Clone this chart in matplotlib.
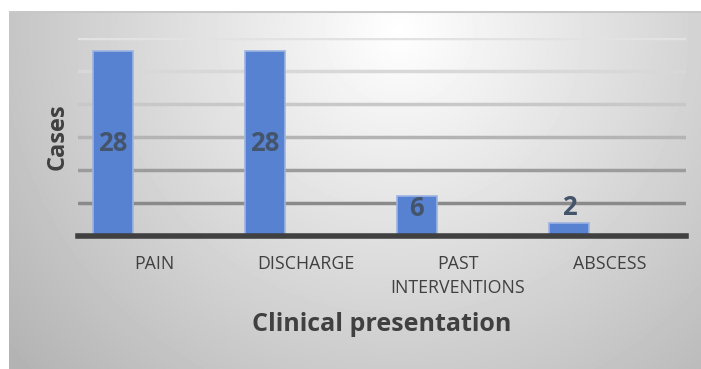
import numpy as np
import matplotlib.pyplot as plt

# Clinical presentation counts
categories = ['PAIN', 'DISCHARGE', 'PAST\nINTERVENTIONS', 'ABSCESS']
cases = [28, 28, 6, 2]
label_y = [14, 14, 4.2, 4.3]

plt.rcParams['font.family'] = ['Open Sans', 'DejaVu Sans']

W, H = 701, 369
fig = plt.figure(figsize=(W / 100, H / 100), dpi=100)
fig.patch.set_facecolor('white')

# radial grey gradient behind the chart area
bg = fig.add_axes([9 / W, 0, 692 / W, 358 / H])
yy, xx = np.mgrid[0:358, 0:692]
r = np.sqrt(((xx - 390) / 430.0) ** 2 + ((yy - 20) / 420.0) ** 2)
shade = 1.0 - 0.25 * np.clip(r, 0, 1.2)
bg.imshow(shade, cmap='gray', vmin=0, vmax=1, aspect='auto', interpolation='bilinear')
bg.axhline(0, color='#c8c8c8', lw=1.5)
bg.set_axis_off()

ax = fig.add_axes([78 / W, 133 / H, 608 / W, 198 / H])
ax.set_facecolor('none')
x = np.arange(len(categories))
ax.set_xlim(-0.5, len(categories) - 0.5)
ax.set_ylim(0, 30)

grid_cols = ['#8a8a8a', '#9c9c9c', '#b4b4b4', '#c8c8c8', '#d8d8d8', '#e2e2e2']
for v, c in zip(range(5, 31, 5), grid_cols):
    ax.axhline(v, color=c, lw=2.5, zorder=1)
ax.axhline(0, color='#404040', lw=4, zorder=4, clip_on=False)

bars = ax.bar(x - 0.27, cases, width=0.265, color='#5682d1',
              edgecolor='#9db4e3', linewidth=1.2, zorder=3)
for xi, v, ly in zip(x, cases, label_y):
    ax.text(xi - 0.27, ly, str(v), ha='center', va='center', fontsize=18.5,
            fontweight='bold', color='#44546a', zorder=5)

ax.set_xticks(x)
ax.set_xticklabels(categories, fontsize=12.8, color='#404040', linespacing=1.43)
ax.tick_params(axis='x', length=0, pad=13.5)
ax.set_yticks([])
for s in ax.spines.values():
    s.set_visible(False)

ax.set_ylabel('Cases', fontsize=17, fontweight='bold', color='#404040', va='center')
ax.yaxis.set_label_coords(-0.033, 0.5)
ax.set_xlabel('Clinical presentation', fontsize=18, fontweight='bold',
              color='#404040', va='center')
ax.xaxis.set_label_coords(0.5, -0.448)

fig.savefig('out.png', dpi=100)
